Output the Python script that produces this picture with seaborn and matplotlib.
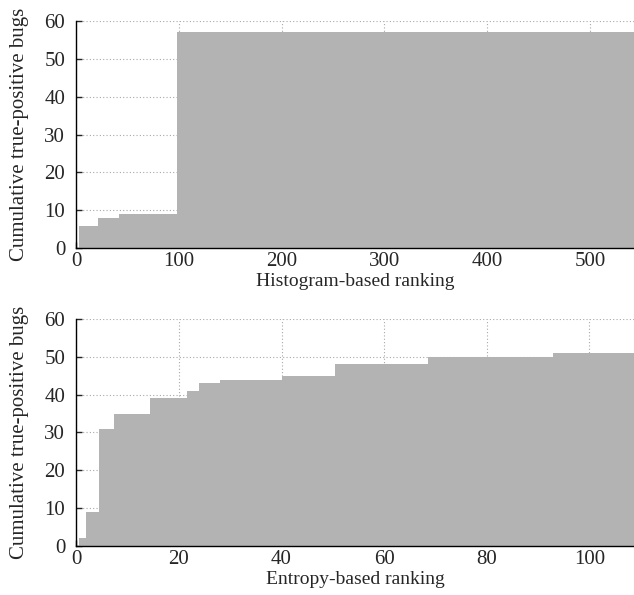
import numpy as np
import pandas as pd
import seaborn as sns
import matplotlib.pyplot as plt

# step edges (rank) and cumulative true-positive bugs on each step
hist_edges = [2.5, 21, 42, 98, 545]
hist_counts = [6, 8, 9, 57]

ent_edges = [0.5, 1.9, 4.4, 7.3, 14.4, 21.6, 23.9, 28, 40, 50.4, 68.6, 93, 110]
ent_counts = [2, 9, 31, 35, 39, 41, 43, 44, 45, 48, 50, 51]

y_ticks = [0, 10, 20, 30, 40, 50, 60]
hist_ticks = [0, 100, 200, 300, 400, 500]
ent_ticks = [0, 20, 40, 60, 80, 100]

sns.set_style('ticks')
plt.rcParams['font.family'] = ['Liberation Serif', 'DejaVu Serif']
plt.rcParams['font.size'] = 15
plt.rcParams['xtick.direction'] = 'in'
plt.rcParams['ytick.direction'] = 'in'

fig = plt.figure(figsize=(6.34, 5.95), dpi=100)
ax1 = fig.add_axes([0.1203, 0.5827, 0.8797, 0.3823])
ax2 = fig.add_axes([0.1203, 0.0824, 0.8797, 0.3815])

GRAY = '#b3b3b3'


def draw(ax, edges, counts, xmax, ticks, xlabel):
    df = pd.DataFrame({'rank': edges[:-1], 'bugs': counts})
    sns.histplot(data=df, x='rank', weights='bugs', bins=edges, element='step',
                 fill=True, color=GRAY, alpha=1, linewidth=0, ax=ax, zorder=2)
    ax.set_xlim(0, xmax)
    ax.set_ylim(0, 60)
    ax.set_xticks(ticks)
    ax.set_yticks(y_ticks)
    ax.grid(True, linestyle=(0, (1, 2)), color='#a8a8a8', linewidth=0.8, zorder=0)
    ax.set_axisbelow(True)
    ax.set_xlabel(xlabel, labelpad=1, fontsize=14)
    ax.set_ylabel('Cumulative true-positive bugs', labelpad=11, fontsize=15)
    ax.tick_params(axis='y', length=4, width=1, pad=8, labelsize=15)
    ax.tick_params(axis='x', length=4, width=1, pad=3, labelsize=15)
    for s in ['left', 'bottom']:
        ax.spines[s].set_color('black')
        ax.spines[s].set_linewidth(1)
    sns.despine(ax=ax)


draw(ax1, hist_edges, hist_counts, 543, hist_ticks, 'Histogram-based ranking')
draw(ax2, ent_edges, ent_counts, 108.7, ent_ticks, 'Entropy-based ranking')

fig.savefig('out.png', dpi=100)
